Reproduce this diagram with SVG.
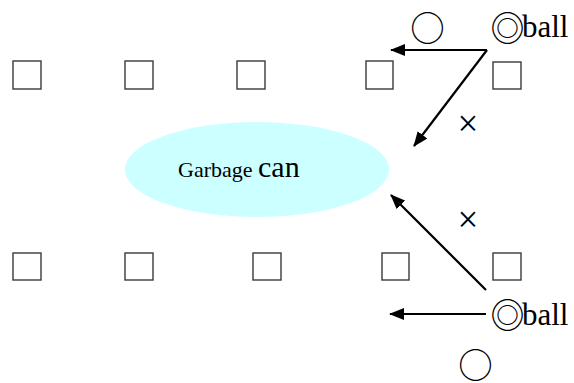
<svg xmlns="http://www.w3.org/2000/svg" width="574" height="383" viewBox="0 0 574 383">
<style>
.sq{fill:none;stroke:#3a3a3a;stroke-width:1.4}
.ln{stroke:#000;stroke-width:2.2;fill:none;marker-end:url(#ah)}
.sym{font-family:"Noto Sans CJK JP","DejaVu Sans",sans-serif;font-size:34.5px;fill:#000}
.dbl{font-family:"Noto Sans CJK JP","DejaVu Sans",sans-serif;font-size:34px}
.x{font-family:"Liberation Serif","DejaVu Serif",serif;font-size:37px;fill:#000}
.lbl{font-family:"Liberation Serif","Times New Roman",serif;fill:#000}
</style>
<defs>
<marker id="ah" markerUnits="userSpaceOnUse" markerWidth="16" markerHeight="13" refX="14" refY="6" orient="auto">
<path d="M0,0 L15,6 L0,12 z" fill="#000"/>
</marker>
</defs>
<rect width="574" height="383" fill="#fff"/>
<g id="squares-top">
<rect class="sq" x="13" y="61" width="28" height="28"/>
<rect class="sq" x="125" y="61" width="28" height="28"/>
<rect class="sq" x="237" y="61" width="28" height="28"/>
<rect class="sq" x="366" y="61" width="27" height="28"/>
<rect class="sq" x="493" y="62" width="28" height="27"/>
</g>
<g id="squares-bottom">
<rect class="sq" x="13" y="253" width="28" height="27"/>
<rect class="sq" x="125" y="253" width="28" height="27"/>
<rect class="sq" x="253" y="253" width="28" height="27"/>
<rect class="sq" x="382" y="253" width="27" height="27"/>
<rect class="sq" x="493" y="253" width="28" height="27"/>
</g>
<g id="garbage-can">
<ellipse cx="257" cy="169.5" rx="132" ry="47.5" fill="#ccffff"/>
<text class="lbl" x="178" y="177"><tspan font-size="22">Garbage </tspan><tspan font-size="30">can</tspan></text>
</g>
<g id="ball-top">
<text class="lbl"><tspan class="dbl" x="507.5" y="41" text-anchor="middle">◎</tspan><tspan x="522" y="37" text-anchor="start" font-size="31">ball</tspan></text>
</g>
<g id="ball-bottom">
<text class="lbl"><tspan class="dbl" x="507.5" y="328" text-anchor="middle">◎</tspan><tspan x="522" y="325" text-anchor="start" font-size="31">ball</tspan></text>
</g>
<g id="marks">
<text class="sym" x="427.5" y="41" text-anchor="middle">○</text>
<text class="sym" x="475.5" y="378" text-anchor="middle">○</text>
<text class="x" x="468" y="136" text-anchor="middle">×</text>
<text class="x" x="468" y="232" text-anchor="middle">×</text>
</g>
<g id="connectors">
<line class="ln" x1="487" y1="50" x2="391" y2="50"/>
<line class="ln" x1="487" y1="50" x2="414" y2="146"/>
<line class="ln" x1="486" y1="290" x2="391" y2="195"/>
<line class="ln" x1="486" y1="314" x2="390" y2="314"/>
</g>
</svg>
